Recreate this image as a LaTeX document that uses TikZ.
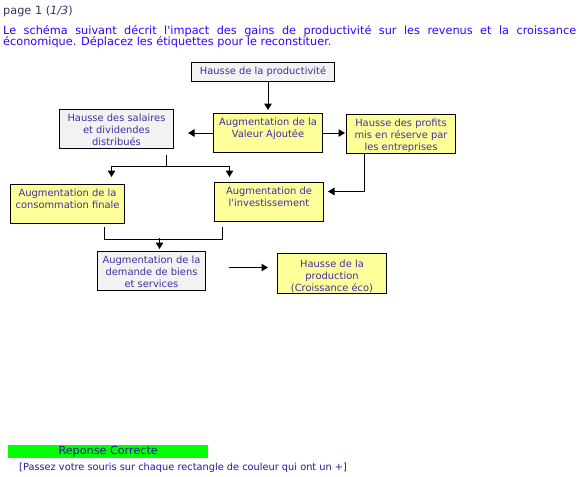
\documentclass[tikz,border=0pt]{standalone}
\usepackage{fontspec}
\setmainfont{DejaVu Sans}[Ligatures=TeXOff]
\usetikzlibrary{arrows.meta}
\definecolor{boxyellow}{RGB}{255,255,153}
\definecolor{boxgray}{RGB}{242,242,242}
\definecolor{boxtext}{RGB}{64,48,160}
\definecolor{headblue}{RGB}{51,0,255}
\definecolor{pagegray}{RGB}{51,51,102}
\definecolor{okgreen}{RGB}{0,255,0}
\definecolor{notetext}{RGB}{45,20,160}
\newcommand{\boxfont}{\fontsize{9.9}{12.2}\selectfont}

\begin{document}
\begin{tikzpicture}[
        x=1pt, y=-1pt,
        stepbox/.style={draw=black, line width=1pt, fill=boxyellow, align=center, text=boxtext, font=\boxfont, anchor=north west, inner xsep=0pt, inner ysep=0pt, minimum height=39pt},
        graybox/.style={stepbox, fill=boxgray},
        twolines/.style={text height=23.7pt, text depth=15.3pt},
        threelines/.style={text height=35.9pt, text depth=3.1pt},
        textline/.style={anchor=base west, inner sep=0pt, font=\fontsize{11.3}{13}\selectfont},
        arrow/.style={-{Triangle[width=7.5pt,length=6.5pt]}, line width=1pt},
        link/.style={line width=1pt}
    ]

    \fill[white] (0,0) rectangle (579,477);
    \useasboundingbox (0,0) rectangle (579,477);

    \node[textline, text=pagegray] (page) at (3,14.3) {page 1 (\textit{1/3})};
    \node[textline, text=headblue] (intro1) at (3,34.3) {\makebox[573pt][s]{Le schéma suivant décrit l'impact des gains de productivité sur les revenus et la croissance}};
    \node[textline, text=headblue] (intro2) at (3,45.7) {économique. Déplacez les étiquettes pour le reconstituer.};

    \node[graybox, minimum width=143pt, minimum height=19pt, text height=7pt, text depth=2.5pt] (prod) at (191,62) {Hausse de la productivité};
    \node[stepbox, twolines, minimum width=109pt] (va) at (213,113) {Augmentation de la\\Valeur Ajoutée};
    \node[graybox, threelines, minimum width=114pt] (sal) at (59,109) {Hausse des salaires\\et dividendes\\distribués};
    \node[stepbox, threelines, minimum width=109pt] (prof) at (346,114) {Hausse des profits\\mis en réserve par\\les entreprises};
    \node[stepbox, twolines, minimum width=114pt] (conso) at (10,184) {Augmentation de la\\consommation finale};
    \node[stepbox, twolines, minimum width=109pt] (inv) at (214,182) {Augmentation de\\l'investissement};
    \node[graybox, threelines, minimum width=108pt] (dem) at (97,251) {Augmentation de la\\demande de biens\\et services};
    \node[stepbox, minimum width=109pt, text height=38.4pt, text depth=1.6pt] (prodn) at (277,253) {Hausse de la\\production\\(Croissance éco)};

    \draw[arrow] (va.north |- prod.south) -- ([yshift=3pt]va.north);
    \draw[arrow, shorten >=14pt] (va.west) -- (va.west -| sal.east);
    \draw[arrow, shorten >=1pt] (va.east) -- (va.east -| prof.west);

    \draw[link] ([xshift=50pt, yshift=-6pt]sal.south) -- ++(0,11) coordinate (fork);
    \draw[arrow] (fork) -| ([xshift=44pt, yshift=7pt]conso.north);
    \draw[arrow] (fork) -| ([xshift=-39.5pt, yshift=5pt]inv.north);

    \draw[arrow] ([xshift=-36.5pt]prof.south) |- ([xshift=4pt, yshift=10.5pt]inv.east);

    \draw[link] ([xshift=37pt, yshift=-3pt]conso.south) |- ([xshift=-46.5pt, yshift=-17pt]inv.south) -- ([xshift=-46.5pt, yshift=-5pt]inv.south);
    \draw[arrow] ([xshift=8pt, yshift=13pt]dem.north) -- ([xshift=8pt, yshift=2pt]dem.north);

    \draw[arrow, shorten <=23pt, shorten >=9pt] ([yshift=3.5pt]dem.east) -- ([yshift=6pt]prodn.west);

    \node[fill=okgreen, anchor=north west, inner sep=0pt, minimum width=200pt, minimum height=13pt, text=notetext, font=\fontsize{11.2}{13}\selectfont] (answer) at (8,445) {Reponse Correcte};
    \node[anchor=base west, inner sep=0pt, text=notetext, font=\fontsize{9.8}{11}\selectfont] (note) at (19,470.7) {[Passez votre souris sur chaque rectangle de couleur qui ont un +]};

    \end{tikzpicture}
\end{document}
